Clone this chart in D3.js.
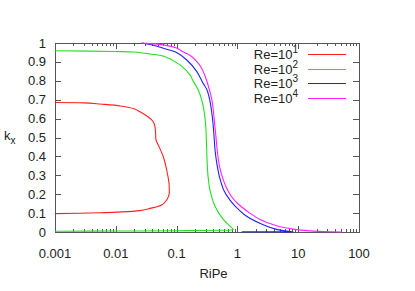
<!DOCTYPE html>
<html>
<head>
<meta charset="utf-8">
<script src="https://cdn.jsdelivr.net/npm/d3@7"></script>
<style>
  body { margin: 0; background: #fff; }
  text { font-family: "Liberation Sans", Arial, sans-serif; fill: #222; }
</style>
</head>
<body>
<div id="chart"></div>
<script>
// series data: RiPe (x) and k_x (y)
const re1Ripe = [0.001, 0.003, 0.0055, 0.012, 0.02, 0.025, 0.032, 0.0389, 0.0425, 0.0441, 0.0452, 0.0458, 0.05, 0.0604, 0.0688, 0.075, 0.0758, 0.0755, 0.0688, 0.0569, 0.0365, 0.025, 0.01, 0.0055, 0.001];
const re1Kx   = [0.685, 0.683, 0.677, 0.667, 0.652, 0.636, 0.615, 0.593, 0.575, 0.557, 0.52, 0.487, 0.46, 0.398, 0.328, 0.258, 0.222, 0.2, 0.169, 0.143, 0.125, 0.113, 0.105, 0.102, 0.097];

const re2Ripe = [0.001, 0.01, 0.02, 0.0365, 0.0617, 0.114, 0.166, 0.188, 0.2275, 0.275, 0.3, 0.31, 0.318, 0.33, 0.36, 0.43, 0.59, 0.76, 0.857, 0.8, 0.5, 0.1, 0.01, 0.001];
const re2Kx   = [0.959, 0.955, 0.952, 0.942, 0.93, 0.884, 0.831, 0.797, 0.751, 0.663, 0.57, 0.47, 0.37, 0.29, 0.21, 0.135, 0.065, 0.03, 0.014, 0.011, 0.009, 0.007, 0.005, 0.004];

const re3Ripe = [0.0267, 0.0414, 0.0605, 0.1, 0.147, 0.214, 0.275, 0.313, 0.35, 0.39, 0.41, 0.43, 0.46, 0.5, 0.6, 0.75, 0.9, 1.4, 2.6, 4.4, 6.5, 8.3, 5, 2, 1.18];
const re3Kx   = [1.0, 0.988, 0.972, 0.95, 0.91, 0.85, 0.785, 0.755, 0.7, 0.6, 0.52, 0.43, 0.36, 0.3, 0.22, 0.17, 0.14, 0.085, 0.04, 0.014, 0.005, 0.001, 0.001, 0.001, 0.001];

const re4Ripe = [0.0267, 0.0322, 0.06, 0.1, 0.112, 0.129, 0.166, 0.214, 0.257, 0.313, 0.38, 0.42, 0.445, 0.47, 0.51, 0.58, 0.667, 0.8, 1.0, 1.6, 2.36, 4.4, 8.3, 15.5, 35, 52];
const re4Kx   = [1.0, 0.998, 0.99, 0.973, 0.965, 0.952, 0.935, 0.903, 0.868, 0.8, 0.7, 0.58, 0.5, 0.42, 0.345, 0.28, 0.232, 0.188, 0.152, 0.1, 0.066, 0.033, 0.015, 0.006, 0.001, 0.0];

const seriesNames = ["1", "2", "3", "4"];
const seriesColors = ["#ff2020", "#22e022", "#2020ff", "#ff20ff"];
const xTicks = [0.001, 0.01, 0.1, 1, 10, 100];
const xTickLabels = ["0.001", "0.01", "0.1", "1", "10", "100"];
const yTicks = [0, 0.1, 0.2, 0.3, 0.4, 0.5, 0.6, 0.7, 0.8, 0.9, 1];

const series = [
  { ripe: re1Ripe, kx: re1Kx },
  { ripe: re2Ripe, kx: re2Kx },
  { ripe: re3Ripe, kx: re3Kx },
  { ripe: re4Ripe, kx: re4Kx }
].map((s, i) => ({
  name: seriesNames[i],
  color: seriesColors[i],
  points: s.ripe.map((r, j) => [r, s.kx[j]])
}));

const fullW = 415, fullH = 291;
const margin = { top: 43, right: 56, bottom: 59, left: 55 };
const w = fullW - margin.left - margin.right;
const h = fullH - margin.top - margin.bottom;

const svg = d3.select("#chart").append("svg")
  .attr("width", fullW)
  .attr("height", fullH);
const g = svg.append("g").attr("transform", `translate(${margin.left},${margin.top})`);

const x = d3.scaleLog().domain([0.001, 100]).range([0, w]);
const y = d3.scaleLinear().domain([0, 1]).range([h, 0]);

// minor log ticks
const minor = [];
for (let e = -3; e < 2; e++) for (let k = 2; k <= 9; k++) minor.push(k * Math.pow(10, e));

const tickColor = "#555";
const ticks = g.append("g").attr("stroke", tickColor).attr("stroke-width", 1);
minor.forEach(v => {
  const px = Math.round(x(v)) + 0.5;
  ticks.append("line").attr("x1", px).attr("x2", px).attr("y1", h).attr("y2", h - 3);
  ticks.append("line").attr("x1", px).attr("x2", px).attr("y1", 0).attr("y2", 3);
});
xTicks.forEach(v => {
  const px = Math.round(x(v)) + 0.5;
  ticks.append("line").attr("x1", px).attr("x2", px).attr("y1", h).attr("y2", h - 6);
  ticks.append("line").attr("x1", px).attr("x2", px).attr("y1", 0).attr("y2", 6);
});
yTicks.forEach(v => {
  const py = Math.round(y(v)) + 0.5;
  ticks.append("line").attr("x1", 0).attr("x2", 6).attr("y1", py).attr("y2", py);
  ticks.append("line").attr("x1", w).attr("x2", w - 6).attr("y1", py).attr("y2", py);
});

// frame
g.append("rect")
  .attr("x", 0.5).attr("y", 0.5)
  .attr("width", w).attr("height", h)
  .attr("fill", "none")
  .attr("stroke", tickColor);

// tick labels
g.append("g").selectAll("text")
  .data(xTicks)
  .join("text")
  .attr("x", d => x(d))
  .attr("y", h + 26)
  .attr("text-anchor", "middle")
  .style("font-size", "13px")
  .text((d, i) => xTickLabels[i]);

g.append("g").selectAll("text")
  .data(yTicks)
  .join("text")
  .attr("x", -9)
  .attr("y", d => y(d) + 4.5)
  .attr("text-anchor", "end")
  .style("font-size", "13px")
  .text(d => d3.format("~g")(d));

// axis titles
g.append("text")
  .attr("x", x(1) - 38)
  .attr("y", h + 46)
  .style("font-size", "13px")
  .text("RiPe");

const kLabel = svg.append("text")
  .attr("x", 4)
  .attr("y", 140)
  .style("font-size", "13px");
kLabel.append("tspan").text("k");
kLabel.append("tspan").attr("dy", 4).style("font-size", "10px").text("x");

// curves
const line = d3.line()
  .x(d => x(d[0]))
  .y(d => y(d[1]))
  .curve(d3.curveCatmullRom.alpha(0.5));

g.append("defs").append("clipPath").attr("id", "clip")
  .append("rect").attr("x", -1).attr("y", -1).attr("width", w + 2).attr("height", h + 2);

g.append("g").attr("clip-path", "url(#clip)")
  .selectAll("path")
  .data(series)
  .join("path")
  .attr("fill", "none")
  .attr("stroke", d => d.color)
  .attr("stroke-width", 1.1)
  .attr("d", d => line(d.points));

// legend
const legend = g.append("g").attr("transform", `translate(${w - 61}, 11)`);
const items = legend.selectAll("g")
  .data(series)
  .join("g")
  .attr("transform", (d, i) => `translate(0, ${Math.round(i * 14.5)})`);
items.append("line")
  .attr("x1", 10).attr("x2", 48)
  .attr("y1", 0.5).attr("y2", 0.5)
  .attr("stroke", d => d.color)
  .attr("stroke-width", 1.2);
const lt = items.append("text")
  .attr("x", 0)
  .attr("y", 5)
  .attr("text-anchor", "end")
  .style("font-size", "13px");
lt.append("tspan").text("Re=10");
lt.append("tspan").attr("dy", -6).style("font-size", "10px").text(d => d.name);
</script>
</body>
</html>
